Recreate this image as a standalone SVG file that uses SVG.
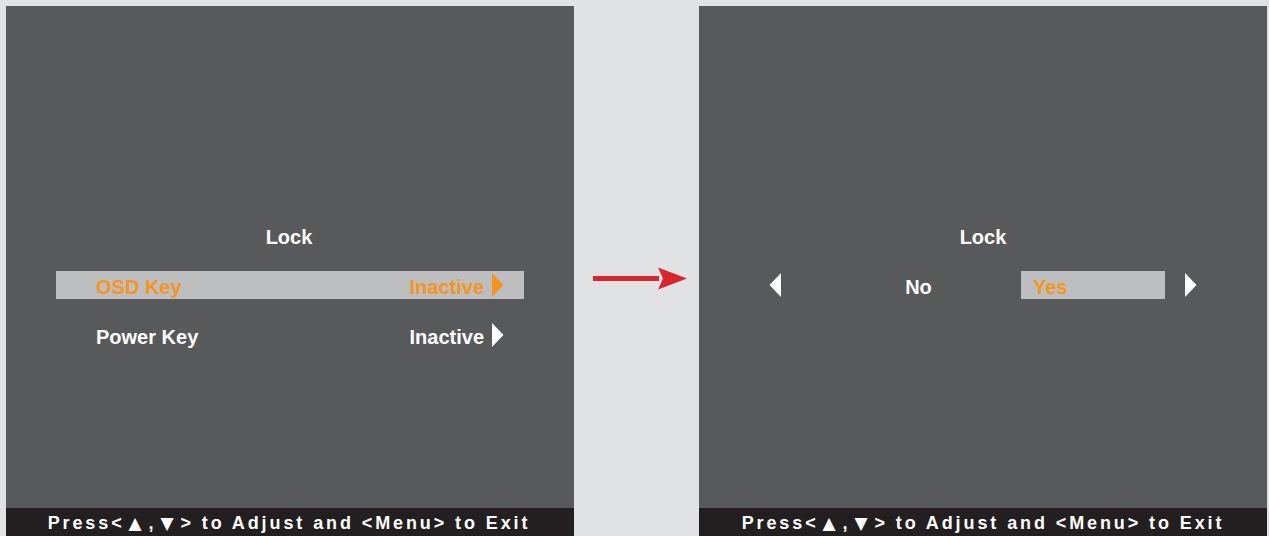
<svg xmlns="http://www.w3.org/2000/svg" width="1269" height="536" viewBox="0 0 1269 536">
  <defs>
    <style>
      .panel { fill: #58595b; }
      .bar { fill: #231f20; }
      .hl { fill: #bcbec0; }
      .t { font-family: "Liberation Sans", Arial, sans-serif; font-weight: bold; font-size: 20px; fill: #ffffff; }
      .o { fill: #f7941d; }
      .foot { font-family: "Liberation Sans", Arial, sans-serif; font-weight: bold; font-size: 18px; fill: #ffffff; letter-spacing: 2.9px; }
      .sym { font-family: "DejaVu Sans", sans-serif; font-size: 17px; }
      .tri { fill: #ffffff; }
      .trio { fill: #f7941d; }
    </style>
  </defs>
  <rect x="0" y="0" width="1269" height="536" fill="#e1e2e4"/>

  <g id="left-screen">
    <rect class="panel" x="6" y="6" width="568" height="530"/>
    <rect class="bar" x="6" y="508" width="568" height="28"/>
    <text class="foot" x="289" y="528.5" text-anchor="middle">Press&lt;<tspan class="sym" dx="4">▲</tspan><tspan dx="4">,</tspan><tspan class="sym" dx="4">▼</tspan><tspan dx="4">&gt;</tspan> to Adjust and &lt;Menu&gt; to Exit</text>
    <text class="t" x="289" y="244" text-anchor="middle">Lock</text>
    <g id="osd-key">
      <rect class="hl" x="56" y="271" width="468" height="28"/>
      <text class="t o" x="96" y="294">OSD Key</text>
      <text class="t o" x="484" y="294" text-anchor="end">Inactive</text>
      <polygon class="trio" points="492,273 503.5,285 492,297"/>
    </g>
    <g id="power-key">
      <text class="t" x="96" y="344">Power Key</text>
      <text class="t" x="484" y="344" text-anchor="end">Inactive</text>
      <polygon class="tri" points="492,323 503.5,335 492,347"/>
    </g>
  </g>

  <g id="connectors">
    <rect x="593" y="276" width="66" height="5" fill="#d7262d"/>
    <polygon points="658,267.5 687,278.5 658,289.5 663,278.5" fill="#d7262d"/>
  </g>

  <g id="right-screen">
    <rect class="panel" x="699" y="6" width="568" height="530"/>
    <rect class="bar" x="699" y="508" width="568" height="28"/>
    <text class="foot" x="983" y="528.5" text-anchor="middle">Press&lt;<tspan class="sym" dx="4">▲</tspan><tspan dx="4">,</tspan><tspan class="sym" dx="4">▼</tspan><tspan dx="4">&gt;</tspan> to Adjust and &lt;Menu&gt; to Exit</text>
    <text class="t" x="983" y="244" text-anchor="middle">Lock</text>
    <g id="option-no">
      <polygon class="tri" points="781,273 769.5,285 781,297"/>
      <text class="t" x="918.5" y="294" text-anchor="middle">No</text>
    </g>
    <g id="option-yes">
      <rect class="hl" x="1021" y="271" width="144" height="28"/>
      <text class="t o" x="1033" y="294">Yes</text>
      <polygon class="tri" points="1185,273 1196.5,285 1185,297"/>
    </g>
  </g>
</svg>
